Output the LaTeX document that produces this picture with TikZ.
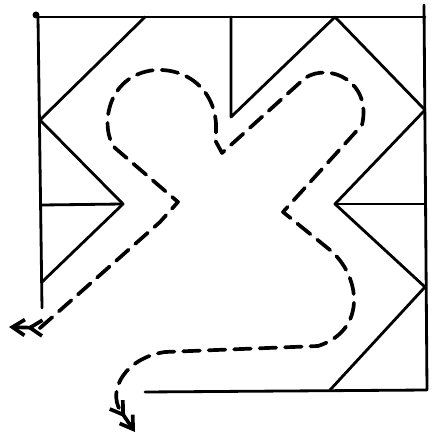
\documentclass[tikz,border=0pt]{standalone}
\usetikzlibrary{arrows.meta}

\begin{document}
\begin{tikzpicture}[x=0.02cm,y=-0.02cm,line join=round,line cap=round,
  wall/.style={line width=1.6pt},
  flow/.style={line width=2.1pt,dash pattern=on 9.5pt off 5pt,line cap=round,
    {Straight Barb[length=7pt,width=9pt]Straight Barb[length=7pt,width=9pt]}-{Straight Barb[length=7pt,width=9pt]Straight Barb[length=7pt,width=9pt]}}]
\useasboundingbox (0,0) rectangle (440,445);
% outline
\coordinate (tl) at (38,17); \coordinate (tr) at (425,17); \coordinate (rtop) at (424,5); \coordinate (br) at (427,390);
\coordinate (bl) at (145,392); \coordinate (lbot) at (42,308);
\draw[wall] (tl)--(tr); \draw[wall] (tl)--(lbot); \draw[wall] (rtop)--(br)--(bl);
\fill (36,15) circle (3.5);
% left zigzag
\coordinate (la) at (40,120); \coordinate (lt) at (145,17); \coordinate (lb) at (123,204); \coordinate (lc) at (42,205); \coordinate (ld) at (42,282);
\draw[wall] (lt)--(la)--(lb)--(ld); \draw[wall] (lc)--(lb);
% right zigzag
\coordinate (ma) at (231,17); \coordinate (mb) at (231,117); \coordinate (apex) at (335,17); \coordinate (ra) at (425,110);
\coordinate (rb) at (335,204); \coordinate (rc) at (425,204); \coordinate (rd) at (425,287); \coordinate (re) at (330,390);
\draw[wall] (ma)--(mb)--(apex)--(ra)--(rb)--(rd)--(re); \draw[wall] (rb)--(rc);
% flow line
\coordinate (outl) at (9,327); \coordinate (outb) at (135,432);
\draw[flow] (outl)--(40,328)--(160,222)--(178,202)--(115,148)
  .. controls (100,130) and (105,75) .. (155,70) .. controls (195,68) and (222,100) .. (215,140)--(222,153)
  --(305,78) .. controls (330,62) and (372,82) .. (362,125)--(283,212)--(330,250)
  .. controls (360,275) and (368,330) .. (318,346)--(165,352) .. controls (125,358) and (108,390) .. (120,410)--(outb);
\end{tikzpicture}
\end{document}
